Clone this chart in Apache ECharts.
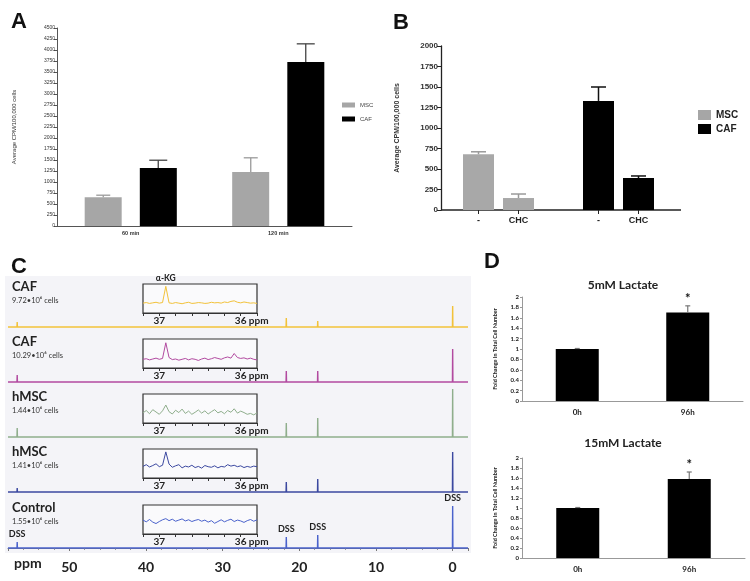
<!DOCTYPE html>
<html><head><meta charset="utf-8">
<script src="https://cdn.jsdelivr.net/npm/echarts@6/dist/echarts.min.js"></script>
<style>html,body{margin:0;padding:0;background:#fff}#c{width:750px;height:581px}</style>
</head><body><div id="c"></div>
<script>
// ---------- Panel A ----------
const aCategories = ['60 min', '120 min'];
const aMSC = [655, 1225];
const aMSCTop = [700, 1550];
const aCAF = [1320, 3730];
const aCAFTop = [1495, 4140];
// ---------- Panel B ----------
const bCategories = ['-', 'CHC', '', '-', 'CHC'];
const bMSC = [680, 146, null, null, null];
const bMSCTop = [710, 195, null, null, null];
const bCAF = [null, null, null, 1330, 390];
const bCAFTop = [null, null, null, 1500, 415];
// ---------- Panel C ----------
const cSamples = ['CAF', 'CAF', 'hMSC', 'hMSC', 'Control'];
const cCells = ['9.72•10⁶ cells', '10.29•10⁶ cells', '1.44•10⁶ cells', '1.41•10⁶ cells', '1.55•10⁶ cells'];
const cPeakPpm = [56.8, 21.7, 17.6, 0];
const cPeakHeights = [
  [5, 9, 6, 21],
  [7, 11, 11, 33],
  [9, 14, 19, 48],
  [4, 10, 13, 40],
  [6, 11, 13, 42]
];
const insetPpm = [37.20,37.16,37.12,37.08,37.04,37.00,36.96,36.92,36.88,36.84,36.80,36.76,36.72,36.68,36.64,36.60,36.56,36.52,36.48,36.44,36.40,36.36,36.32,36.28,36.24,36.20,36.16,36.12,36.08,36.04,36.00,35.96,35.92,35.88,35.84,35.80];
const insetValues = [
  [3.4,3.6,3.3,3.5,3.7,3.4,3.6,9.2,3.5,3.3,3.6,3.4,3.2,3.5,3.7,3.3,3.4,3.6,3.5,3.3,3.4,3.7,3.5,3.6,3.4,3.8,3.6,4.0,4.2,3.7,3.5,3.8,3.6,3.4,3.5,3.3],
  [3.0,3.2,2.8,3.1,3.4,3.0,3.3,8.7,3.6,2.9,3.1,2.7,3.0,3.3,2.8,3.2,3.0,2.6,3.1,3.4,2.9,3.2,3.6,3.3,3.0,3.5,3.8,3.4,5.0,3.6,3.3,3.5,3.1,3.4,3.0,2.8],
  [3.5,4.3,3.2,4.6,3.8,3.0,4.2,6.2,3.9,3.1,4.4,3.6,4.8,3.3,4.1,3.0,3.7,4.5,3.4,4.2,3.1,3.9,4.6,3.5,4.0,3.2,4.3,3.7,4.9,3.4,4.1,3.6,3.0,3.3,2.8,3.5],
  [4.0,4.6,3.8,4.3,4.9,3.9,4.4,9.0,4.8,3.7,4.2,4.6,3.5,4.1,3.8,4.4,3.6,4.0,3.4,4.3,3.9,3.7,4.2,3.5,4.0,3.8,4.6,4.1,4.4,3.9,4.2,3.6,4.0,3.7,4.1,3.9],
  [4.8,4.2,5.0,4.1,3.6,4.3,4.9,5.3,4.6,5.1,4.4,4.8,5.2,4.5,4.9,4.3,4.7,5.0,4.4,4.8,4.1,4.6,3.7,4.3,4.9,4.2,4.7,5.1,4.3,4.8,4.5,4.0,4.6,5.0,4.4,4.9]
];
const insetPeakLabel = 'α-KG';
const dssLabel = 'DSS';
// ---------- Panel D ----------
const dCategories = ['0h', '96h'];
const d5 = [1.0, 1.70];
const d5Top = [1.01, 1.83];
const d5Stars = ['', '*'];
const d15 = [1.0, 1.58];
const d15Top = [1.01, 1.72];
const d15Stars = ['', '*'];

// ---------- layout / style ----------
const AR = 'Liberation Sans';
const CB = 'Lato';
const cBase = [327, 382, 437, 492, 548];
const cCol = ['#f2c23a', '#b24aa0', '#8fae8c', '#3b48a0', '#4a62cc'];
const plain = v => String(v);

const grids = [], xAxes = [], yAxes = [], series = [];

function errSeries(gi, vals, tops, offset, color, cap, lw, stars) {
  const data = [];
  vals.forEach((v, i) => { if (v != null) data.push([i, v, tops[i]]); });
  return {
    type: 'custom', xAxisIndex: gi, yAxisIndex: gi, z: 5, data, silent: true,
    renderItem: (params, api) => {
      const i = api.value(0);
      const p0 = api.coord([i, api.value(1)]);
      const p1 = api.coord([i, api.value(2)]);
      const x = p0[0] + offset;
      const ch = [
        {type: 'line', shape: {x1: x, y1: p0[1], x2: x, y2: p1[1]}, style: {stroke: color, lineWidth: lw}},
        {type: 'line', shape: {x1: x - cap / 2, y1: p1[1], x2: x + cap / 2, y2: p1[1]}, style: {stroke: color, lineWidth: lw}}
      ];
      if (stars && stars[i]) ch.push({type: 'text', x: x, y: p1[1] - 1,
        style: {text: stars[i], textAlign: 'center', textVerticalAlign: 'bottom', font: 'bold 13px ' + CB, fill: '#111'}});
      return {type: 'group', children: ch};
    }
  };
}

// Panel A (grid 0)
grids.push({left: 57, top: 28, width: 295, height: 198});
xAxes.push({gridIndex: 0, type: 'category', data: aCategories,
  axisLine: {lineStyle: {color: '#555', width: 1}},
  axisTick: {alignWithLabel: true, length: 3, lineStyle: {color: '#555'}},
  axisLabel: {fontSize: 5.5, fontWeight: 'bold', color: '#333', fontFamily: AR, margin: 4}});
yAxes.push({gridIndex: 0, type: 'value', min: 0, max: 4500, interval: 250,
  name: 'Average CPM/100,000 cells', nameLocation: 'middle', nameRotate: 90, nameGap: 40,
  nameTextStyle: {fontSize: 6, color: '#333', fontFamily: AR},
  axisLine: {show: true, lineStyle: {color: '#555', width: 1}},
  axisTick: {show: true, length: 3, lineStyle: {color: '#555'}},
  axisLabel: {fontSize: 5, color: '#333', fontFamily: AR, margin: 2, formatter: plain},
  splitLine: {show: false}});
series.push({name: 'MSC', type: 'bar', xAxisIndex: 0, yAxisIndex: 0, data: aMSC, barWidth: 37, barGap: '49%', itemStyle: {color: '#a6a6a6'}});
series.push({name: 'CAF', type: 'bar', xAxisIndex: 0, yAxisIndex: 0, data: aCAF, barWidth: 37, barGap: '49%', itemStyle: {color: '#000'}});
series.push(errSeries(0, aMSC, aMSCTop, -27.5, '#9a9a9a', 14, 1.3));
series.push(errSeries(0, aCAF, aCAFTop, 27.5, '#444', 18, 1.3));

// Panel B (grid 1)
grids.push({left: 458.5, top: 46, width: 200, height: 164});
xAxes.push({gridIndex: 1, type: 'category', data: bCategories,
  axisLine: {show: false},
  axisTick: {show: true, alignWithLabel: true, length: 4, interval: (i) => bCategories[i] !== '', lineStyle: {color: '#222'}},
  axisLabel: {fontSize: 9, fontWeight: 'bold', color: '#222', fontFamily: AR, margin: 6, interval: 0}});
yAxes.push({gridIndex: 1, type: 'value', min: 0, max: 2000, interval: 250, offset: 17.5,
  name: 'Average CPM/100,000 cells', nameLocation: 'middle', nameRotate: 90, nameGap: 40,
  nameTextStyle: {fontSize: 7, fontWeight: 'bold', color: '#333', fontFamily: AR},
  axisLine: {show: true, lineStyle: {color: '#222', width: 1.3}},
  axisTick: {show: true, length: 4, lineStyle: {color: '#222'}},
  axisLabel: {fontSize: 8, fontWeight: 'bold', color: '#333', fontFamily: AR, margin: 3, formatter: plain},
  splitLine: {show: false}});
series.push({name: 'MSC', type: 'bar', stack: 'b', xAxisIndex: 1, yAxisIndex: 1, data: bMSC, barWidth: 31, itemStyle: {color: '#a8a8a8'}});
series.push({name: 'CAF', type: 'bar', stack: 'b', xAxisIndex: 1, yAxisIndex: 1, data: bCAF, barWidth: 31, itemStyle: {color: '#000'}});
series.push(errSeries(1, bMSC, bMSCTop, 0, '#9a9a9a', 15, 1.5));
series.push(errSeries(1, bCAF, bCAFTop, 0, '#111', 15, 1.5));

// Panel C main spectra (grids 2-6)
function specData(h, labelled) {
  const pts = [[58, 0]];
  cPeakPpm.forEach((p, k) => {
    pts.push([p + 0.03, 0]);
    if (labelled) pts.push({value: [p, h[k]], label: {show: true, formatter: dssLabel, position: 'top', distance: 3,
      fontSize: 9, fontWeight: 'bold', color: '#222', fontFamily: CB}});
    else pts.push([p, h[k]]);
    pts.push([p - 0.03, 0]);
  });
  pts.push([-2, 0]);
  return pts;
}
cBase.forEach((b, i) => {
  const gi = grids.length;
  grids.push({left: 8, top: b - 55, width: 460, height: 55});
  const isLast = i === cBase.length - 1;
  xAxes.push({gridIndex: gi, type: 'value', min: -2, max: 58, inverse: true, show: isLast, offset: 5,
    axisLine: {show: true, lineStyle: {color: '#777', width: 1}},
    axisTick: {show: true, length: 3, lineStyle: {color: '#777'}},
    minorTick: {show: true, splitNumber: 5, length: 2, lineStyle: {color: '#999'}},
    axisLabel: {fontSize: 14, fontWeight: 'bold', color: '#222', fontFamily: CB, margin: 7,
      formatter: v => (Math.abs(v % 10) < 1e-6 ? String(Math.round(v)) : ''), showMinLabel: false, showMaxLabel: false},
    splitLine: {show: false}});
  yAxes.push({gridIndex: gi, type: 'value', min: 0, max: 55, show: false});
  series.push({name: 'spec' + i, type: 'line', xAxisIndex: gi, yAxisIndex: gi, data: specData(cPeakHeights[i], isLast),
    symbol: 'circle', symbolSize: 0, showSymbol: true, clip: false,
    lineStyle: {color: cCol[i], width: 1.4}, itemStyle: {color: cCol[i]}, z: 3});
});
// insets (grids 7-11)
cBase.forEach((b, i) => {
  const gi = grids.length;
  grids.push({left: 143, top: b - 43, width: 114, height: 29, show: true, borderColor: '#333', borderWidth: 1.2, backgroundColor: '#fafafc'});
  xAxes.push({gridIndex: gi, type: 'value', min: 35.8, max: 37.2, interval: 0.2, inverse: true,
    axisLine: {show: true, lineStyle: {color: '#333', width: 1.2}},
    axisTick: {show: true, length: 3, lineStyle: {color: '#333'}},
    axisLabel: {fontSize: 10, fontWeight: 'bold', color: '#222', fontFamily: CB, margin: 3,
      showMinLabel: true, showMaxLabel: true,
      formatter: v => Math.abs(v - 37) < 0.01 ? '37' : (Math.abs(v - 36) < 0.01 ? '{p|}36 ppm' : ''),
      rich: {p: {width: 22}}},
    splitLine: {show: false}});
  yAxes.push({gridIndex: gi, type: 'value', min: 0, max: 10, show: false});
  const data = insetPpm.map((p, k) => {
    if (i === 0 && k === 7) return {value: [p, insetValues[i][k]], label: {show: true, formatter: insetPeakLabel, position: 'top',
      distance: 4, fontSize: 8.5, fontWeight: 'bold', color: '#222', fontFamily: CB}};
    return [p, insetValues[i][k]];
  });
  series.push({name: 'inset' + i, type: 'line', xAxisIndex: gi, yAxisIndex: gi, data,
    symbol: 'circle', symbolSize: 0, showSymbol: true,
    lineStyle: {color: cCol[i], width: 1}, itemStyle: {color: cCol[i]}, z: 4});
});

// Panel D (grids 12, 13)
function dPanel(gi, top, width, height, vals, tops, stars, nameGap) {
  grids.push({left: 522, top, width, height});
  xAxes.push({gridIndex: gi, type: 'category', data: dCategories,
    axisLine: {lineStyle: {color: '#999', width: 1}},
    axisTick: {length: 3, lineStyle: {color: '#999'}},
    axisLabel: {fontSize: 8, fontWeight: 'bold', color: '#222', fontFamily: CB, margin: 7}});
  yAxes.push({gridIndex: gi, type: 'value', min: 0, max: 2, interval: 0.2,
    name: 'Fold Change In Total Cell Number', nameLocation: 'middle', nameRotate: 90, nameGap,
    nameTextStyle: {fontSize: 5.5, fontWeight: 'bold', color: '#222', fontFamily: CB},
    axisLine: {show: true, lineStyle: {color: '#999', width: 1}},
    axisTick: {show: true, length: 2, lineStyle: {color: '#999'}},
    axisLabel: {fontSize: 6, fontWeight: 'bold', color: '#222', fontFamily: CB, margin: 3},
    splitLine: {show: false}});
  series.push({name: 'd' + gi, type: 'bar', xAxisIndex: gi, yAxisIndex: gi, data: vals, barWidth: 43, itemStyle: {color: '#000'}});
  series.push(errSeries(gi, vals, tops, 0, '#777', 5, 1.2, stars));
}
dPanel(grids.length, 297, 221, 104, d5, d5Top, d5Stars, 24);
dPanel(grids.length, 458, 223, 100, d15, d15Top, d15Stars, 24);

// texts & decorations
const graphics = [
  {type: 'rect', z: -10, shape: {x: 5, y: 276, width: 466, height: 277}, style: {fill: '#f4f4f8'}, silent: true},
  {type: 'line', shape: {x1: 441, y1: 210, x2: 681, y2: 210}, style: {stroke: '#222', lineWidth: 1.4}, silent: true},
  {type: 'text', x: 14, y: 563, style: {text: 'ppm', font: 'bold 14px ' + CB, fill: '#222', textVerticalAlign: 'middle'}}
];
cBase.forEach((b, i) => {
  graphics.push({type: 'text', x: 12, y: b - 40, style: {text: cSamples[i], font: 'bold 13px ' + CB, fill: '#222', textVerticalAlign: 'middle'}});
  graphics.push({type: 'text', x: 12, y: b - 26, style: {text: cCells[i], font: '7.5px ' + CB, fill: '#333', textVerticalAlign: 'middle'}});
});

const letter = (t, x, y) => ({text: t, left: x, top: y, textStyle: {fontSize: 22, fontWeight: 'bold', color: '#111', fontFamily: AR}});
const option = {
  animation: false,
  backgroundColor: '#fff',
  title: [
    letter('A', 6, 6), letter('B', 388, 7), letter('C', 6, 251), letter('D', 479, 246),
    {text: '5mM Lactate', left: 618, top: 274, textAlign: 'center', textStyle: {fontSize: 12, fontWeight: 'bold', color: '#222', fontFamily: CB}},
    {text: '15mM Lactate', left: 618, top: 432, textAlign: 'center', textStyle: {fontSize: 12, fontWeight: 'bold', color: '#222', fontFamily: CB}}
  ],
  legend: [
    {data: ['MSC', 'CAF'], orient: 'vertical', left: 337, top: 97, itemWidth: 13, itemHeight: 5, itemGap: 8, icon: 'rect',
      textStyle: {fontSize: 6, color: '#444', fontFamily: AR}, selectedMode: false},
    {data: ['MSC', 'CAF'], orient: 'vertical', left: 693, top: 105, itemWidth: 13, itemHeight: 10, itemGap: 4, icon: 'rect',
      textStyle: {fontSize: 10, fontWeight: 'bold', color: '#222', fontFamily: AR}, selectedMode: false}
  ],
  grid: grids,
  xAxis: xAxes,
  yAxis: yAxes,
  series,
  graphic: graphics
};
const chart = echarts.init(document.getElementById('c'), null, {renderer: 'canvas'});
chart.setOption(option);
</script></body></html>
